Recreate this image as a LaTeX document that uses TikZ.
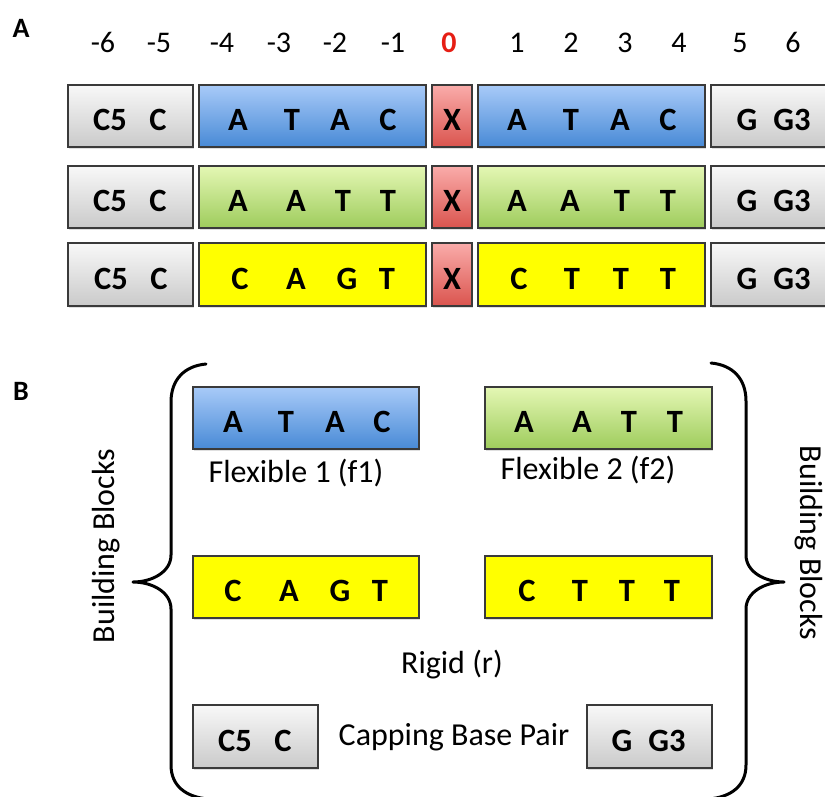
\documentclass[tikz,border=0pt]{standalone}
\usepackage{fontspec}
\setmainfont{Carlito}
\usetikzlibrary{shadows,fit}

\definecolor{edge}{RGB}{58,58,58}
\definecolor{blueTop}{RGB}{168,202,248}
\definecolor{blueBot}{RGB}{72,138,214}
\definecolor{greenTop}{RGB}{228,247,180}
\definecolor{greenBot}{RGB}{158,204,92}
\definecolor{greyTop}{RGB}{248,248,248}
\definecolor{greyBot}{RGB}{202,202,202}
\definecolor{redTop}{RGB}{250,172,170}
\definecolor{redBot}{RGB}{218,84,78}
\definecolor{seqYellow}{RGB}{255,255,0}
\definecolor{zeroRed}{RGB}{230,30,20}

\tikzset{
  blk/.style={draw=edge, line width=1.3pt, inner sep=0pt,
    drop shadow={shadow xshift=1.2pt, shadow yshift=-2.2pt, opacity=0.25}},
  bluefill/.style={blk, top color=blueTop, bottom color=blueBot},
  greenfill/.style={blk, top color=greenTop, bottom color=greenBot},
  greyfill/.style={blk, top color=greyTop, bottom color=greyBot},
  redfill/.style={blk, top color=redTop, bottom color=redBot},
  yellowfill/.style={blk, fill=seqYellow},
  seqtxt/.style={font=\fontsize{32.5}{33}\selectfont\bfseries, anchor=base, inner sep=0pt},
  posnum/.style={font=\fontsize{30}{30}\selectfont, anchor=base, inner sep=0pt},
  captxt/.style={font=\fontsize{32}{32}\selectfont, anchor=base, inner sep=0pt},
  paneltxt/.style={font=\fontsize{28}{28}\selectfont\bfseries, anchor=base, inner sep=0pt},
  curly/.style={line width=3pt, line cap=round, line join=round}
}

% box from corner (x1,y1) to (x2,y2) in pixel units
\newcommand\seqblock[6]{%
  \node[#2, fit={(#3,#4) (#5,#6)}] (#1) {};}
% letters of one block: prefix, baseline y, list of letter/x
\newcommand\seqletters[3]{%
  \foreach \t/\x [count=\i] in {#3} {\node[seqtxt] (#1\i) at (\x,#2) {\t};}}

\begin{document}
\begin{tikzpicture}[x=1pt,y=-1pt]
\clip (0,0) rectangle (825,796);
\fill[white] (0,0) rectangle (825,796);

% ---------------- panel A ----------------
\node[paneltxt] (labA) at (21,37) {A};

\foreach \n/\x [count=\i] in {-6/103,-5/159,-4/222,-3/279,-2/335,-1/393} {
  \node[posnum] (pm\i) at (\x,52) {\n};}
\node[posnum, text=zeroRed, font=\fontsize{30}{30}\selectfont\bfseries] (p0) at (449,52) {0};
\foreach \n/\x in {1/517,2/571,3/625,4/679,5/740,6/793} {
  \node[posnum] (pp\n) at (\x,52) {\n};}

% row 1
\seqblock{aL1}{greyfill}{68}{85}{193}{147}
\seqblock{aS1}{bluefill}{199}{85}{426}{147}
\seqblock{aX1}{redfill}{432}{85}{472}{147}
\seqblock{aT1}{bluefill}{478}{85}{705}{147}
\seqblock{aR1}{greyfill}{711}{85}{845}{147}
\seqletters{l1c}{130}{C5/110, C/158}
\seqletters{l1s}{130}{A/238, T/292, A/340, C/388}
\node[seqtxt] (x1) at (452,130) {X};
\seqletters{l1t}{130}{A/517, T/571, A/620, C/668}
\seqletters{l1g}{130}{G/747, G3/792}

% row 2
\seqblock{aL2}{greyfill}{68}{166}{193}{228}
\seqblock{aS2}{greenfill}{199}{166}{426}{228}
\seqblock{aX2}{redfill}{432}{166}{472}{228}
\seqblock{aT2}{greenfill}{478}{166}{705}{228}
\seqblock{aR2}{greyfill}{711}{166}{845}{228}
\seqletters{l2c}{211}{C5/110, C/158}
\seqletters{l2s}{211}{A/238, A/296, T/343, T/388}
\node[seqtxt] (x2) at (452,211) {X};
\seqletters{l2t}{211}{A/517, A/570, T/622, T/668}
\seqletters{l2g}{211}{G/747, G3/792}

% row 3
\seqblock{aL3}{greyfill}{68}{243}{193}{306}
\seqblock{aS3}{yellowfill}{199}{243}{426}{306}
\seqblock{aX3}{redfill}{432}{243}{472}{306}
\seqblock{aT3}{yellowfill}{478}{243}{705}{306}
\seqblock{aR3}{greyfill}{711}{243}{845}{306}
\seqletters{l3c}{289}{C5/111, C/159}
\seqletters{l3s}{289}{C/240, A/296, G/347, T/387}
\node[seqtxt] (x3) at (452,289) {X};
\seqletters{l3t}{289}{C/519, T/572, T/621, T/668}
\seqletters{l3g}{289}{G/747, G3/792}

% ---------------- panel B ----------------
\node[paneltxt] (labB) at (21,400) {B};

\seqblock{bF1}{bluefill}{193}{387}{419}{449}
\seqletters{bf1}{432}{A/233, T/286, A/335, C/382}
\node[captxt] (capF1) at (296,482) {Flexible 1 (f1)};

\seqblock{bF2}{greenfill}{485}{387}{712}{449}
\seqletters{bf2}{432}{A/524, A/582, T/629, T/675}
\node[captxt] (capF2) at (588,479) {Flexible 2 (f2)};

\seqblock{bR1}{yellowfill}{193}{556}{419}{618}
\seqletters{br1}{601}{C/233, A/289, G/340, T/380}
\seqblock{bR2}{yellowfill}{485}{556}{712}{618}
\seqletters{br2}{601}{C/527, T/580, T/627, T/672}
\node[captxt] (capR) at (452,673) {Rigid (r)};

\seqblock{bC1}{greyfill}{193}{705}{318}{768}
\seqletters{bc1}{751}{C5/235, C/283}
\seqblock{bC2}{greyfill}{587}{705}{712}{768}
\seqletters{bc2}{751}{G/622, G3/667}
\node[captxt] (capC) at (454,745) {Capping Base Pair};

% curly braces
\draw[curly] (206,364) .. controls (184,366) and (171,380) .. (171,402)
  -- (171,555) .. controls (171,572) and (152,582) .. (133,582)
  .. controls (152,582) and (171,592) .. (171,609)
  -- (171,765) .. controls (171,786) and (186,797) .. (208,799);
\draw[curly] (711,363) .. controls (733,365) and (746,379) .. (746,401)
  -- (746,555) .. controls (746,572) and (765,582) .. (784,582)
  .. controls (765,582) and (746,592) .. (746,609)
  -- (746,765) .. controls (746,786) and (731,797) .. (709,799);

\node[captxt, anchor=center, rotate=90] (bbL) at (106,546) {Building Blocks};
\node[captxt, anchor=center, rotate=-90] (bbR) at (809,543) {Building Blocks};
\end{tikzpicture}
\end{document}
